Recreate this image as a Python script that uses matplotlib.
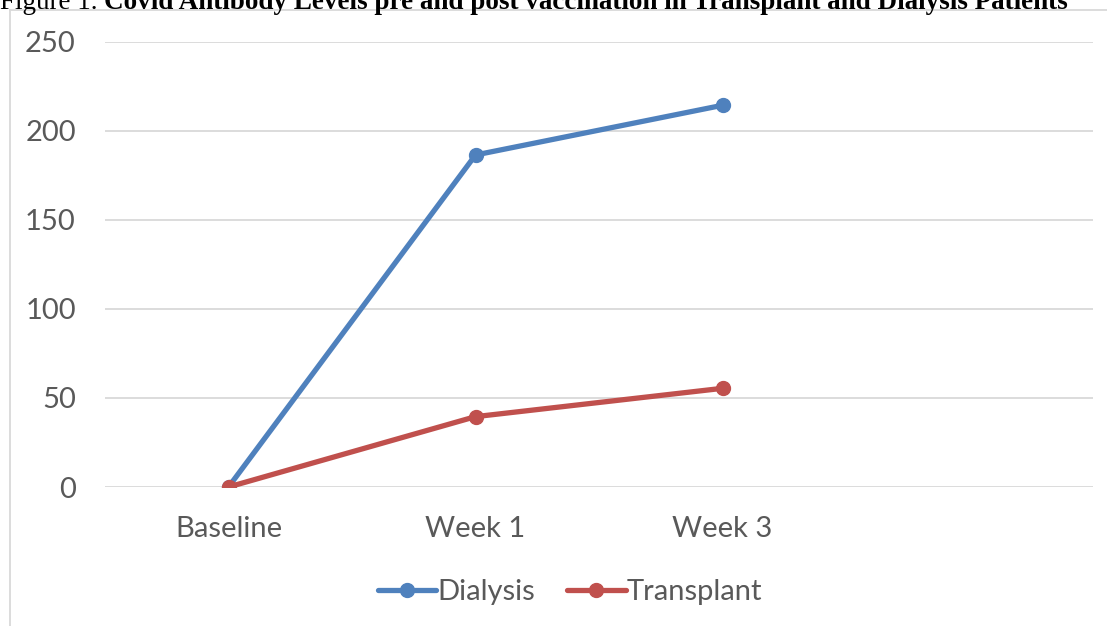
import numpy as np
import matplotlib
matplotlib.use('Agg')
import matplotlib.pyplot as plt
from matplotlib.lines import Line2D

categories = ['Baseline', 'Week 1', 'Week 3', '']
dialysis = [0, 186.4, 214.3]
transplant = [0, 39.5, 55.4]
y_ticks = [0, 50, 100, 150, 200, 250]

W, H = 1107, 626
fig = plt.figure(figsize=(W / 100, H / 100), dpi=100)
ax = fig.add_axes([105 / W, 1 - 487 / H, (1093 - 105) / W, (487 - 41.7) / H])

x = np.arange(len(categories))
ax.plot(x[:len(dialysis)], dialysis, color='#4F81BD', lw=3.8, marker='o', ms=10,
        label='Dialysis', solid_capstyle='round', zorder=3)
ax.plot(x[:len(transplant)], transplant, color='#C0504D', lw=3.8, marker='o', ms=10,
        label='Transplant', solid_capstyle='round', zorder=3)

ax.set_xlim(-0.5, len(categories) - 0.5)
ax.set_ylim(0, 250)
ax.set_yticks(y_ticks)
ax.set_xticks(x)
ax.set_xticklabels(categories)
ax.yaxis.grid(True, color='#D9D9D9', lw=1.3)
ax.set_axisbelow(True)
for s in ax.spines.values():
    s.set_visible(False)
ax.tick_params(length=0, labelsize=21, labelcolor='#595959')
ax.tick_params(axis='y', pad=21)
ax.tick_params(axis='x', pad=21)
for lab in ax.get_xticklabels() + ax.get_yticklabels():
    lab.set_family('Lato')

leg = ax.legend(loc='center', bbox_to_anchor=(570 / W, 1 - 592 / H), bbox_transform=fig.transFigure,
                ncol=2, frameon=False, handlelength=2.0, handletextpad=0.05, columnspacing=1.1,
                prop={'family': 'Lato', 'size': 21})
for t in leg.get_texts():
    t.set_color('#595959')

# chart frame (only left and top visible in the crop)
fig.add_artist(Line2D([10 / W, 10 / W], [0, 1 - 10 / H], color='#D9D9D9', lw=1.3))
fig.add_artist(Line2D([10 / W, 1], [1 - 10 / H, 1 - 10 / H], color='#D9D9D9', lw=1.3))

# caption, cut off at the top like the reference
t1 = fig.text(0, 1 - 9 / H, 'Figure 1. ', family='Liberation Serif', size=19.5, va='baseline')
fig.canvas.draw()
bb = t1.get_window_extent()
fig.text(bb.x1 / W, 1 - 9 / H, 'Covid Antibody Levels pre and post vaccination in Transplant and Dialysis Patients',
         family='Liberation Serif', weight='bold', size=19.5, va='baseline')

fig.savefig('out.png', dpi=100)
